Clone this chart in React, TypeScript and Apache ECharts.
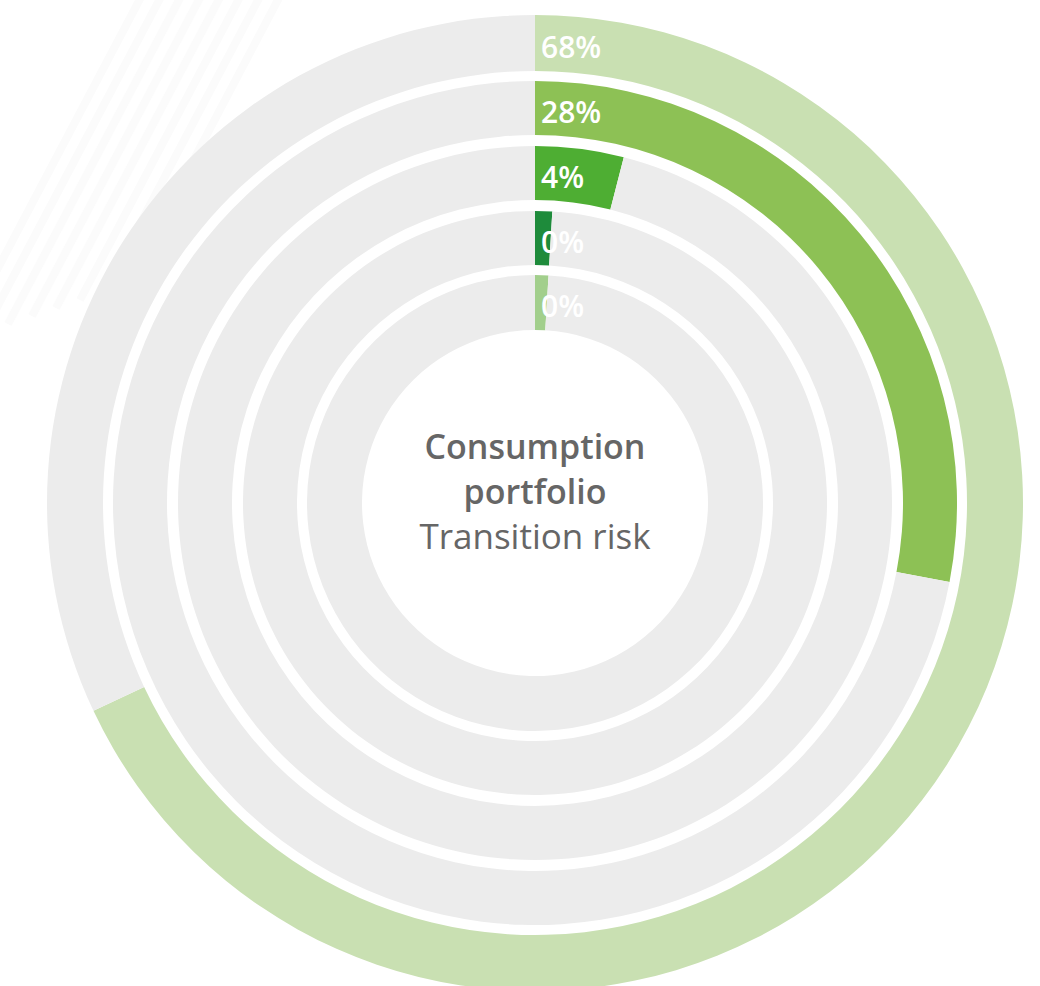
import React, { useEffect, useRef } from "react";
import * as echarts from "echarts";

const shares = [68, 28, 4, 0, 0];
const ringColors = ["#c9e0b2", "#8dc155", "#4eae33", "#1e8b3b", "#a2cf8c"];
const remainderColor = "#ececec";
const titleBold = ["Consumption", "portfolio"];
const subtitle = "Transition risk";

const CX = 535;
const CY = 503;
const radii: [number, number][] = [
  [432, 488],
  [368, 422],
  [303, 357],
  [238, 292],
  [173, 228],
];

export default function App() {
  const ref = useRef<HTMLDivElement>(null);
  useEffect(() => {
    document.body.style.margin = "0";
    const chart = echarts.init(ref.current!, null, { renderer: "svg" });
    const series: any[] = shares.map((v, i) => ({
      type: "pie",
      center: [CX, CY],
      radius: radii[i],
      startAngle: 90,
      clockwise: true,
      minAngle: 3.4,
      silent: true,
      label: { show: false },
      labelLine: { show: false },
      emphasis: { disabled: true },
      data: [
        { value: v, name: "share", itemStyle: { color: ringColors[i] } },
        { value: 100 - v, name: "rest", itemStyle: { color: remainderColor } },
      ],
    }));
    const stripes: any[] = [0, 1, 2, 3, 4, 5, 6, 7].map((k) => ({
      type: "line",
      silent: true,
      z: -10,
      shape: { x1: -40 + k * 24, y1: 340 - k * 8, x2: 150 + k * 24, y2: -20 - k * 8 },
      style: { stroke: "#fbfbfb", lineWidth: 8 },
    }));
    const labels: any[] = shares.map((v, i) => ({
      type: "text",
      x: 541,
      y: CY - (radii[i][0] + radii[i][1]) / 2 + 3,
      z: 100,
      style: {
        text: `${v}%`,
        fill: "#ffffff",
        font: "600 30px 'Open Sans', sans-serif",
        textVerticalAlign: "middle",
        textAlign: "left",
      },
    }));
    const center: any[] = [
      ...titleBold.map((t, i) => ({
        type: "text",
        x: CX,
        y: 446 + i * 45,
        z: 100,
        style: {
          text: t,
          fill: "#666666",
          font: "600 34px 'Open Sans', sans-serif",
          textAlign: "center",
          textVerticalAlign: "middle",
        },
      })),
      {
        type: "text",
        x: CX,
        y: 535,
        z: 100,
        style: {
          text: subtitle,
          fill: "#666666",
          font: "400 35px 'Open Sans', sans-serif",
          textAlign: "center",
          textVerticalAlign: "middle",
        },
      },
    ];
    chart.setOption({
      animation: false,
      backgroundColor: "#ffffff",
      series,
      graphic: [...stripes, ...labels, ...center],
    });
    return () => chart.dispose();
  }, []);
  return <div ref={ref} style={{ width: 1040, height: 986 }} />;
}
